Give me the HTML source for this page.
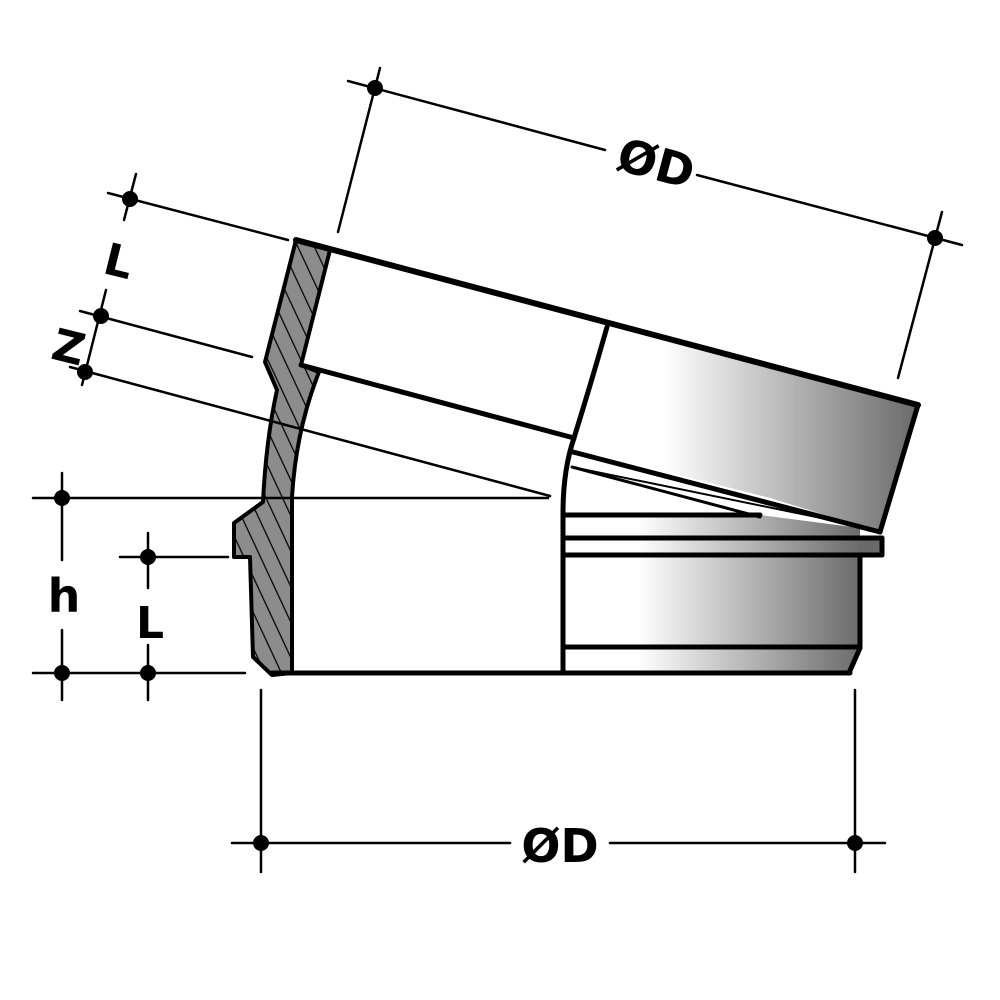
<!DOCTYPE html>
<html><head><meta charset="utf-8"><style>html,body{margin:0;padding:0;background:#fff}svg{display:block}</style></head>
<body>
<svg width="1000" height="1000" viewBox="0 0 1000 1000" xmlns="http://www.w3.org/2000/svg">
<defs>
<linearGradient id="g2" x1="563" x2="862" y1="0" y2="0" gradientUnits="userSpaceOnUse">
<stop offset="0" stop-color="#fff"/><stop offset="0.25" stop-color="#fff"/><stop offset="1" stop-color="#6a6a6a"/></linearGradient>
<linearGradient id="g3" x1="600" x2="918" y1="0" y2="0" gradientUnits="userSpaceOnUse">
<stop offset="0" stop-color="#fff"/><stop offset="0.2" stop-color="#fff"/><stop offset="1" stop-color="#6a6a6a"/></linearGradient>
<pattern id="hat" width="15" height="15" patternUnits="userSpaceOnUse" patternTransform="rotate(-25)">
<rect width="15" height="15" fill="#8c8c8c"/><line x1="0" y1="0" x2="0" y2="15" stroke="#000" stroke-width="2.5"/></pattern>
</defs>
<g stroke="#000" fill="none" stroke-linecap="round">
<polygon points="607,327 918,405 880,532 770,498 600,455 574,438 590,380" fill="url(#g3)" stroke="none"/>
<polygon points="563,538 882,538 882,555 860,555 860,648 849,673 563,673" fill="url(#g2)" stroke="none"/>
<polygon points="563,515 760,515 860,528 860,538 563,538" fill="url(#g2)" stroke="none"/>
<path d="M296,240 L330,250 L301,365 L319,372 Q296,430 292,497 L292,673 L272,675 L253,657 L250,557 L234,557 L234,523 L263,502 Q266,440 277,390 L265,362 Z" fill="url(#hat)" stroke="#000" stroke-width="4" stroke-linejoin="round"/>
<line x1="296" y1="240" x2="918" y2="405" stroke-width="6"/>
<line x1="918" y1="405" x2="880" y2="532" stroke-width="5"/>
<line x1="301" y1="365" x2="574" y2="438" stroke-width="5"/>
<path d="M607,327 Q592,380 574,438 Q563,470 563,513 L563,673" stroke-width="5"/>
<line x1="573" y1="452" x2="880" y2="532" stroke-width="5"/>
<line x1="572" y1="467" x2="760" y2="517" stroke-width="3"/>
<line x1="572" y1="467" x2="870" y2="528" stroke-width="2"/>
<line x1="563" y1="515" x2="760" y2="515" stroke-width="5"/>
<line x1="563" y1="538" x2="882" y2="538" stroke-width="5"/>
<line x1="563" y1="555" x2="882" y2="555" stroke-width="5"/>
<line x1="882" y1="538" x2="882" y2="555" stroke-width="5"/>
<path d="M860,555 L860,648 L849,673" stroke-width="5"/>
<line x1="563" y1="647" x2="860" y2="647" stroke-width="5"/>
<line x1="272" y1="673" x2="850" y2="673" stroke-width="5"/>
<g stroke-width="2.5">
<line x1="348" y1="81" x2="605" y2="150"/><line x1="697" y1="175" x2="962" y2="245"/>
<line x1="380" y1="68" x2="338" y2="232"/><line x1="942" y1="212" x2="898" y2="378"/>
<line x1="108" y1="193" x2="288" y2="240"/>
<line x1="80" y1="311" x2="252" y2="357"/>
<line x1="70" y1="367" x2="550" y2="496"/>
<line x1="136" y1="174" x2="124" y2="220"/><line x1="106" y1="290" x2="82" y2="385"/>
<line x1="33" y1="498" x2="548" y2="498"/>
<line x1="33" y1="673" x2="245" y2="673"/>
<line x1="62" y1="473" x2="62" y2="560"/><line x1="62" y1="630" x2="62" y2="700"/>
<line x1="120" y1="557" x2="228" y2="557"/>
<line x1="148" y1="533" x2="148" y2="588"/><line x1="148" y1="645" x2="148" y2="700"/>
<line x1="232" y1="843" x2="510" y2="843"/><line x1="610" y1="843" x2="885" y2="843"/>
<line x1="261" y1="690" x2="261" y2="872"/><line x1="855" y1="690" x2="855" y2="872"/>
</g>
</g>
<g fill="#000">
<circle cx="375" cy="88" r="8"/><circle cx="935" cy="238" r="8"/>
<circle cx="130" cy="199" r="8"/><circle cx="101" cy="316" r="8"/><circle cx="85" cy="372" r="8"/>
<circle cx="62" cy="498" r="8"/><circle cx="62" cy="673" r="8"/>
<circle cx="148" cy="557" r="8"/><circle cx="148" cy="673" r="8"/>
<circle cx="261" cy="843" r="8"/><circle cx="855" cy="843" r="8"/>
</g>
<g font-family="'DejaVu Sans','Liberation Sans',sans-serif" font-weight="bold" fill="#000" text-anchor="middle">
<text x="0" y="0" font-size="46" transform="translate(652,179) rotate(15)">ØD</text>
<text x="560" y="862" font-size="46">ØD</text>
<text x="0" y="0" font-size="44" transform="translate(115,276) rotate(14)">L</text>
<text x="0" y="0" font-size="44" transform="translate(65,362) rotate(14)">Z</text>
<text x="64" y="612" font-size="46">h</text>
<text x="150" y="638" font-size="44">L</text>
</g>
</svg>
</body></html>
